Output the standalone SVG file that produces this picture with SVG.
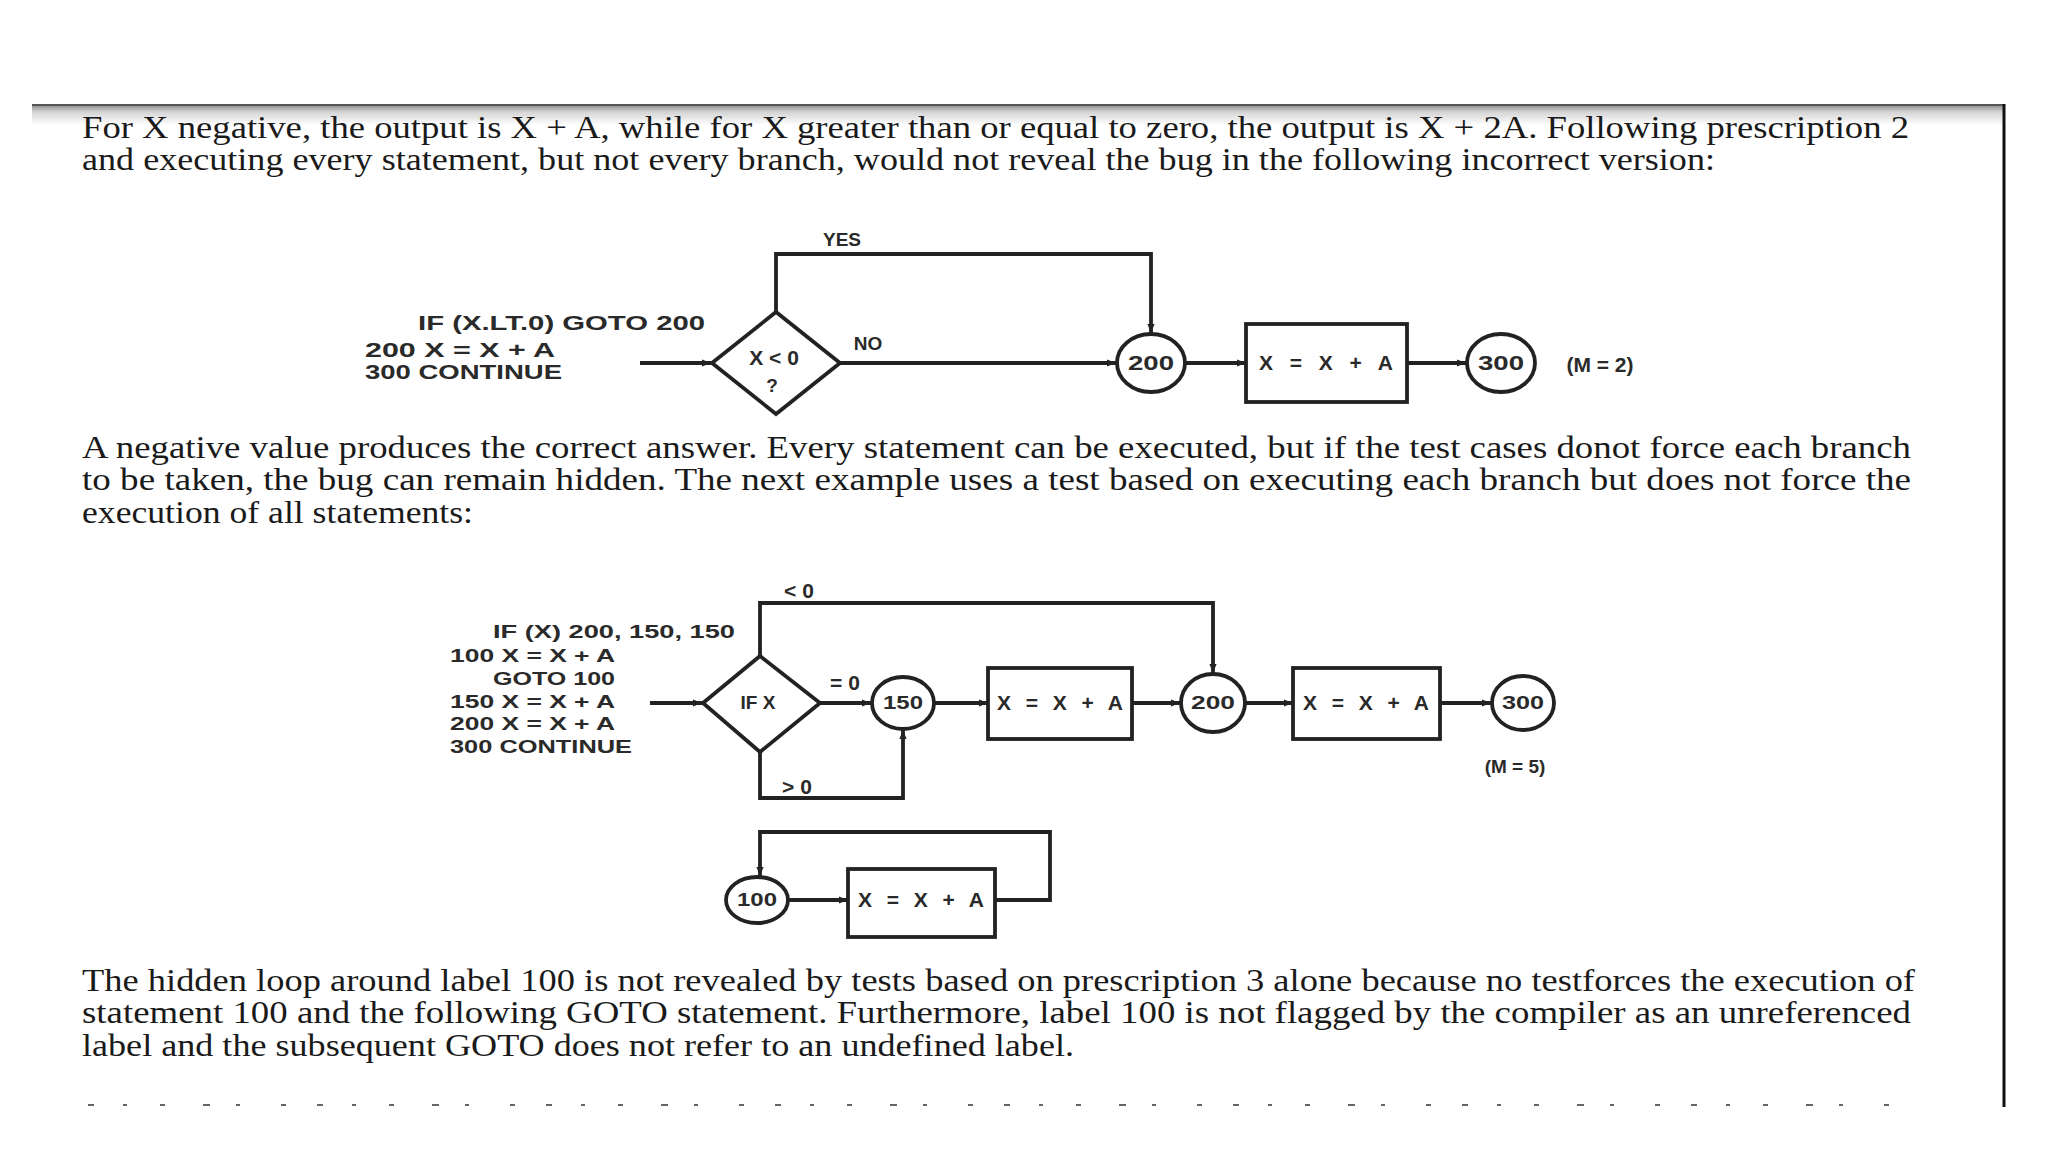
<svg xmlns="http://www.w3.org/2000/svg" width="2048" height="1152" viewBox="0 0 2048 1152">
<defs>
<linearGradient id="shade" x1="0" y1="0" x2="0" y2="1">
<stop offset="0" stop-color="#8c8c8c"/>
<stop offset="0.35" stop-color="#d4d4d4"/>
<stop offset="1" stop-color="#ffffff"/>
</linearGradient>
<marker id="arr" viewBox="0 0 10 10" refX="10" refY="5" markerWidth="10" markerHeight="9" markerUnits="userSpaceOnUse" orient="auto">
<path d="M0,1 L10,5 L0,9 z" fill="#222"/>
</marker>
<style>
.para{font-family:"Liberation Serif","Times New Roman",serif;font-size:31px;fill:#1a1a1a}
.code{font-family:"Liberation Sans",Arial,sans-serif;font-weight:bold;fill:#2a2a2a}
.c20{font-size:21px}
.c18{font-size:19px}
.mid{text-anchor:middle}
.shape{fill:#fff;stroke:#222;stroke-width:3.8}
.conn{fill:none;stroke:#222;stroke-width:3.8;marker-end:url(#arr)}
</style>
</defs>
<rect width="2048" height="1152" fill="#fff"/>

<!-- page frame -->
<rect x="32" y="105" width="1972" height="20" fill="url(#shade)"/>
<line x1="32" y1="105" x2="2005" y2="105" stroke="#555" stroke-width="2"/>
<line x1="2004" y1="104" x2="2004" y2="1107" stroke="#111" stroke-width="3"/>

<!-- paragraphs -->
<g id="para1">
<text class="para" x="82" y="138" textLength="1827" lengthAdjust="spacingAndGlyphs">For X negative, the output is X + A, while for X greater than or equal to zero, the output is X + 2A. Following prescription 2</text>
<text class="para" x="82" y="170" textLength="1633" lengthAdjust="spacingAndGlyphs">and executing every statement, but not every branch, would not reveal the bug in the following incorrect version:</text>
</g>
<g id="para2">
<text class="para" x="82" y="458" textLength="1829" lengthAdjust="spacingAndGlyphs">A negative value produces the correct answer. Every statement can be executed, but if the test cases donot force each branch</text>
<text class="para" x="82" y="490" textLength="1829" lengthAdjust="spacingAndGlyphs">to be taken, the bug can remain hidden. The next example uses a test based on executing each branch but does not force the</text>
<text class="para" x="82" y="523" textLength="391" lengthAdjust="spacingAndGlyphs">execution of all statements:</text>
</g>
<g id="para3">
<text class="para" x="82" y="991" textLength="1833" lengthAdjust="spacingAndGlyphs">The hidden loop around label 100 is not revealed by tests based on prescription 3 alone because no testforces the execution of</text>
<text class="para" x="82" y="1023" textLength="1829" lengthAdjust="spacingAndGlyphs">statement 100 and the following GOTO statement. Furthermore, label 100 is not flagged by the compiler as an unreferenced</text>
<text class="para" x="82" y="1056" textLength="992" lengthAdjust="spacingAndGlyphs">label and the subsequent GOTO does not refer to an undefined label.</text>
</g>
<line x1="88" y1="1105" x2="1912" y2="1105" stroke="#666" stroke-width="2" stroke-dasharray="6 29 4 33 5 38 7 26 4 41 5 31"/>

<!-- ===== Diagram 1 ===== -->
<g id="code1" class="code c20">
<text x="418" y="330" textLength="287" lengthAdjust="spacingAndGlyphs">IF (X.LT.0) GOTO 200</text>
<text x="365" y="357" textLength="190" lengthAdjust="spacingAndGlyphs">200 X = X + A</text>
<text x="365" y="379" textLength="197" lengthAdjust="spacingAndGlyphs">300 CONTINUE</text>
</g>
<g id="d1-connectors">
<path class="conn" d="M640,363 H711"/>
<path class="conn" d="M776,312 V254 H1151 V333"/>
<path class="conn" d="M840,363 H1116"/>
<path class="conn" d="M1185,363 H1246"/>
<path class="conn" d="M1407,363 H1466"/>
<text class="code c18 mid" x="842" y="246">YES</text>
<text class="code c18 mid" x="868" y="350">NO</text>
</g>
<g id="d1-decision">
<polygon class="shape" points="712,363 776,312 840,363 776,414"/>
<text class="code c20 mid" x="774" y="365">X &lt; 0</text>
<text class="code c18 mid" x="772" y="392">?</text>
</g>
<g id="d1-label200">
<ellipse class="shape" cx="1151" cy="363" rx="34" ry="29"/>
<text class="code c20 mid" x="1151" y="370" textLength="46" lengthAdjust="spacingAndGlyphs">200</text>
</g>
<g id="d1-assign">
<rect class="shape" x="1246" y="324" width="161" height="78"/>
<text class="code c20 mid" x="1326" y="370" textLength="134" lengthAdjust="spacing">X = X + A</text>
</g>
<g id="d1-label300">
<ellipse class="shape" cx="1501" cy="363" rx="34" ry="29"/>
<text class="code c20 mid" x="1501" y="370" textLength="46" lengthAdjust="spacingAndGlyphs">300</text>
</g>
<text class="code c20 mid" x="1600" y="372">(M = 2)</text>

<!-- ===== Diagram 2 ===== -->
<g id="code2" class="code c18">
<text x="493" y="638" textLength="242" lengthAdjust="spacingAndGlyphs">IF (X) 200, 150, 150</text>
<text x="450" y="662" textLength="165" lengthAdjust="spacingAndGlyphs">100 X = X + A</text>
<text x="493" y="685" textLength="122" lengthAdjust="spacingAndGlyphs">GOTO 100</text>
<text x="450" y="708" textLength="165" lengthAdjust="spacingAndGlyphs">150 X = X + A</text>
<text x="450" y="730" textLength="165" lengthAdjust="spacingAndGlyphs">200 X = X + A</text>
<text x="450" y="753" textLength="182" lengthAdjust="spacingAndGlyphs">300 CONTINUE</text>
</g>
<g id="d2-connectors">
<path class="conn" d="M650,703 H702"/>
<path class="conn" d="M760,656 V603 H1213 V673"/>
<path class="conn" d="M820,703 H871"/>
<path class="conn" d="M760,752 V798 H903 V730"/>
<path class="conn" d="M934,703 H988"/>
<path class="conn" d="M1132,703 H1180"/>
<path class="conn" d="M1245,703 H1293"/>
<path class="conn" d="M1440,703 H1491"/>
<text class="code c20 mid" x="799" y="598">&lt; 0</text>
<text class="code c20 mid" x="845" y="690">= 0</text>
<text class="code c20 mid" x="797" y="794">&gt; 0</text>
</g>
<g id="d2-decision">
<polygon class="shape" points="703,703 760,656 820,703 760,752"/>
<text class="code c18 mid" x="758" y="709">IF X</text>
</g>
<g id="d2-label150">
<ellipse class="shape" cx="903" cy="703" rx="31" ry="26"/>
<text class="code c18 mid" x="903" y="709" textLength="40" lengthAdjust="spacingAndGlyphs">150</text>
</g>
<g id="d2-assign1">
<rect class="shape" x="988" y="668" width="144" height="71"/>
<text class="code c20 mid" x="1060" y="710" textLength="126" lengthAdjust="spacing">X = X + A</text>
</g>
<g id="d2-label200">
<ellipse class="shape" cx="1213" cy="703" rx="32" ry="29"/>
<text class="code c18 mid" x="1213" y="709" textLength="44" lengthAdjust="spacingAndGlyphs">200</text>
</g>
<g id="d2-assign2">
<rect class="shape" x="1293" y="668" width="147" height="71"/>
<text class="code c20 mid" x="1366" y="710" textLength="126" lengthAdjust="spacing">X = X + A</text>
</g>
<g id="d2-label300">
<ellipse class="shape" cx="1523" cy="703" rx="31" ry="27"/>
<text class="code c18 mid" x="1523" y="709" textLength="42" lengthAdjust="spacingAndGlyphs">300</text>
</g>
<text class="code c18 mid" x="1515" y="773">(M = 5)</text>

<!-- ===== Diagram 3 (hidden loop) ===== -->
<g id="d3-connectors">
<path class="conn" d="M788,900 H848"/>
<path class="conn" d="M995,900 H1050 V832 H760 V876"/>
</g>
<g id="d3-label100">
<ellipse class="shape" cx="757" cy="900" rx="31" ry="23"/>
<text class="code c18 mid" x="757" y="906" textLength="40" lengthAdjust="spacingAndGlyphs">100</text>
</g>
<g id="d3-assign">
<rect class="shape" x="848" y="869" width="147" height="68"/>
<text class="code c20 mid" x="921" y="907" textLength="126" lengthAdjust="spacing">X = X + A</text>
</g>
</svg>
